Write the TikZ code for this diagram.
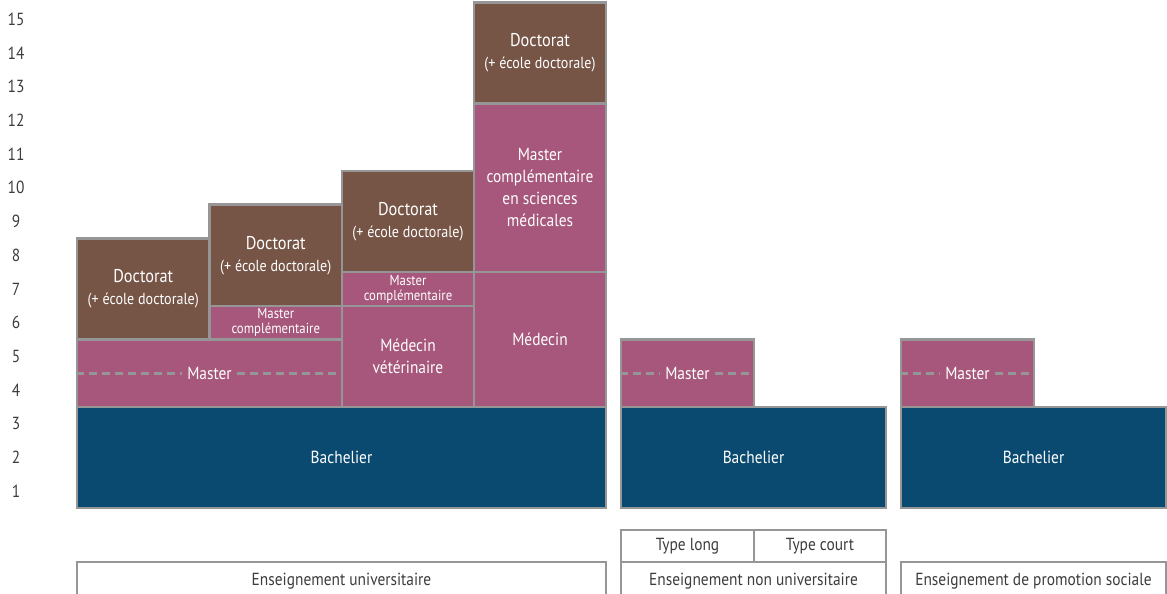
\documentclass[tikz,border=0pt]{standalone}
\usepackage{fontspec}
\setmainfont{PT Sans}[FakeStretch=0.88]
\usepackage{tikz}
\definecolor{docbrown}{RGB}{118,84,70}
\definecolor{mastpink}{RGB}{166,87,123}
\definecolor{bachblue}{RGB}{10,74,112}
\definecolor{rulegray}{RGB}{150,150,150}
\definecolor{txtgray}{RGB}{60,60,60}
\newcommand{\mainsz}{\fontsize{17.5}{22}\selectfont}
\newcommand{\docsz}{\fontsize{18.5}{22}\selectfont}
\newcommand{\smallsz}{\fontsize{16}{22}\selectfont}
\newcommand{\tightsz}{\fontsize{14.5}{15}\selectfont}
\tikzset{
    box/.style={rectangle, draw=rulegray, line width=2.5pt, inner sep=0mm, align=center, text=white, font=\mainsz},
    docbox/.style={box, fill=docbrown},
    pinkbox/.style={box, fill=mastpink},
    bachbox/.style={box, fill=bachblue},
    typebox/.style={box, text=txtgray},
    axisnum/.style={text=txtgray, font=\mainsz, inner sep=0mm},
    dashtext/.style={text=white, font=\mainsz, inner sep=5pt},
    dashline/.style={draw=rulegray, line width=3pt, dash pattern=on 8pt off 5pt}
}

\begin{document}
\begin{tikzpicture}[x=1pt, y=-1pt]
        \useasboundingbox (0,0) rectangle (1167,594);
        \foreach \n in {1,...,15}
                \node (y\n) [axisnum] at (16, {508-33.7*(\n-0.5)}) {\n};
        % universitaire
        \node (bach1) [bachbox, minimum width=529pt, minimum height=101.1pt] at (341.5, 457.45) {Bachelier};
        \node (mast1) [pinkbox, minimum width=265pt, minimum height=67.4pt] at (209.5, 373.2) {};
        \node (doc1) [docbox, minimum width=132.5pt, minimum height=101.1pt] at (143.25, 288.95) {{\docsz Doctorat}\\{\smallsz (+ école doctorale)}};
        \node (mc2) [pinkbox, font=\tightsz, minimum width=132.5pt, minimum height=33.7pt] at (275.75, 322.65) {Master\\complémentaire};
        \node (doc2) [docbox, minimum width=132.5pt, minimum height=101.1pt] at (275.75, 255.25) {{\docsz Doctorat}\\{\smallsz (+ école doctorale)}};
        \node (vet3) [pinkbox, minimum width=132pt, minimum height=101.1pt] at (408, 356.35) {Médecin\\vétérinaire};
        \node (mc3) [pinkbox, font=\tightsz, minimum width=132pt, minimum height=33.7pt] at (408, 288.95) {Master\\complémentaire};
        \node (doc3) [docbox, minimum width=132pt, minimum height=101.1pt] at (408, 221.55) {{\docsz Doctorat}\\{\smallsz (+ école doctorale)}};
        \node (med4) [pinkbox, minimum width=132pt, minimum height=134.8pt] at (540, 339.5) {Médecin};
        \node (mcs4) [pinkbox, minimum width=132pt, minimum height=168.5pt] at (540, 187.85) {Master\\complémentaire\\en sciences\\médicales};
        \node (doc4) [docbox, minimum width=132pt, minimum height=101.1pt] at (540, 53.05) {{\docsz Doctorat}\\{\smallsz (+ école doctorale)}};
        % non universitaire
        \node (bach2) [bachbox, minimum width=265pt, minimum height=101.1pt] at (753.5, 457.45) {Bachelier};
        \node (mast2) [pinkbox, minimum width=133pt, minimum height=67.4pt] at (687.5, 373.2) {};
        % promotion sociale
        \node (bach3) [bachbox, minimum width=265pt, minimum height=101.1pt] at (1033.5, 457.45) {Bachelier};
        \node (mast3) [pinkbox, minimum width=133pt, minimum height=67.4pt] at (967.5, 373.2) {};
        \foreach \m in {mast1, mast2, mast3} {
                \node (\m t) [dashtext] at (\m) {Master};
                \draw [dashline] (\m.west) -- (\m t.west);
                \draw [dashline] (\m t.east) -- (\m.east);
        }
        % legende
        \node (tlong) [typebox, minimum width=133pt, minimum height=32pt] at (687.5, 546) {Type long};
        \node (tcourt) [typebox, minimum width=132pt, minimum height=32pt] at (820, 546) {Type court};
        \node (univ) [typebox, minimum width=529pt, minimum height=38pt] at (341.5, 581) {Enseignement universitaire};
        \node (nonuniv) [typebox, minimum width=265pt, minimum height=38pt] at (753.5, 581) {Enseignement non universitaire};
        \node (promo) [typebox, minimum width=265pt, minimum height=38pt] at (1033.5, 581) {Enseignement de promotion sociale};
\end{tikzpicture}
\end{document}
